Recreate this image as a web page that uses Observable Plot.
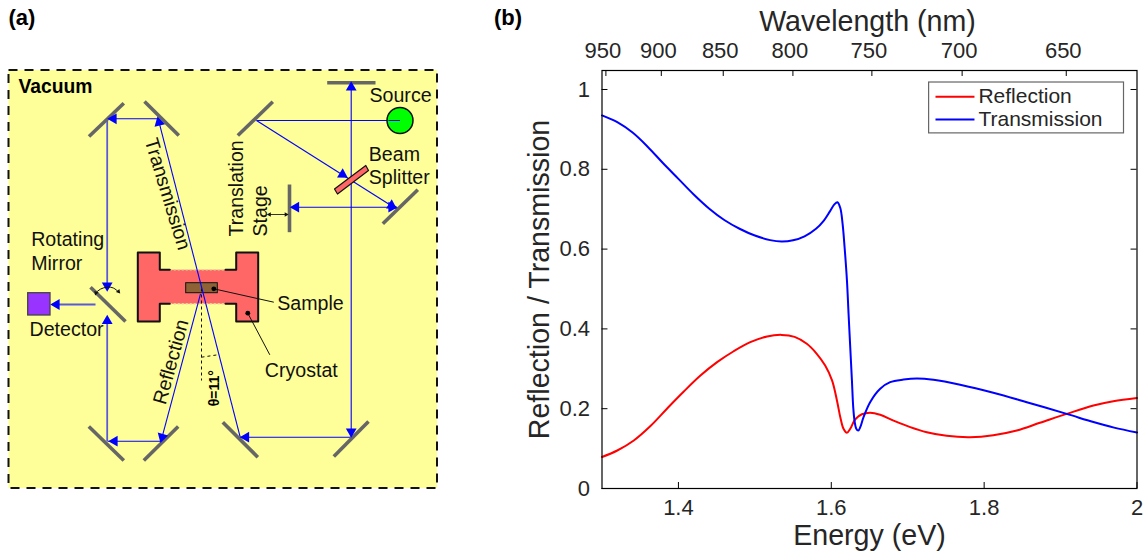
<!DOCTYPE html>
<html>
<head>
<meta charset="utf-8">
<script src="https://cdn.jsdelivr.net/npm/d3@7"></script>
<script src="https://cdn.jsdelivr.net/npm/@observablehq/plot@0.6"></script>
<style>
html,body{margin:0;padding:0;background:#fff;width:1145px;height:554px;overflow:hidden}
#a,#b{position:absolute;top:0}
#a{left:0}
#b{left:485px}
svg{display:block;background:transparent}
</style>
</head>
<body>
<div id="a"></div>
<div id="b"></div>
<script>
// ---------- Panel (b) data ----------
const reflectionE = [1.3,1.32,1.3416,1.3634,1.385,1.407,1.4288,1.4506,1.4723,1.494,1.516,1.535,1.552,1.568,1.581,1.592,1.601,1.6074,1.6118,1.616,1.6205,1.6248,1.6314,1.64,1.651,1.664,1.6815,1.7033,1.725,1.751,1.7817,1.812,1.8427,1.873,1.908,1.943,1.969,2];
const reflectionV = [0.079,0.0952,0.1203,0.1565,0.2,0.243,0.283,0.3166,0.344,0.3667,0.381,0.385,0.38,0.3626,0.3376,0.308,0.271,0.2206,0.1787,0.1496,0.1396,0.1496,0.1735,0.186,0.19,0.1847,0.17,0.1537,0.141,0.132,0.1287,0.1336,0.1454,0.1646,0.187,0.208,0.2188,0.2268];
const transmissionE = [1.3,1.32,1.34,1.36,1.38,1.40,1.42,1.44,1.46,1.48,1.50,1.52,1.535,1.55,1.565,1.58,1.59,1.598,1.604,1.608,1.6118,1.6148,1.6174,1.6205,1.6226,1.6248,1.627,1.6287,1.6304,1.6327,1.6353,1.6379,1.6422,1.651,1.664,1.677,1.6945,1.712,1.7337,1.7686,1.812,1.8558,1.908,1.943,1.97,2];
const transmissionV = [0.935,0.918,0.892,0.856,0.815,0.776,0.737,0.702,0.673,0.651,0.634,0.6225,0.619,0.622,0.632,0.651,0.671,0.694,0.712,0.7175,0.703,0.663,0.605,0.521,0.438,0.354,0.271,0.204,0.17,0.1496,0.1454,0.1537,0.179,0.217,0.25,0.2665,0.273,0.2757,0.2724,0.26,0.24,0.2163,0.187,0.1665,0.1525,0.1404];
const energyTicks = [1.4,1.6,1.8,2];
const valueTicks = [0,0.2,0.4,0.6,0.8,1];
const wavelengthTicks = [950,900,850,800,750,700,650];
const legendNames = ["Reflection","Transmission"];
const legendColors = ["#ff0000","#0000ff"];

// ---------- Panel (a) schematic, in diagram units ----------
const mirrors = [[88.5,136,123.3,102.7],[144,101,178.3,135],[237.3,135,272.3,101.3],[326.7,82.3,375,82.3],[382.3,223.3,417.3,189.3],[289,184,289,231.7],[90,286.7,125,321],[88.3,426,123.3,460],[143.3,460,177.7,426],[222.3,421.7,257.3,456.7],[333.3,456,368,421]];
const thinBeams = [[399,120,256,120],[256,120,393.3,206.7],[291.7,206.7,393.3,206.7],[350.7,84,350.7,437],[350.7,436.7,239.7,436.7],[239.7,436.7,157.7,118.3],[157.7,118.3,107,118.3],[160.5,440.7,107,440.7],[200,293.3,160.5,440.7]];
const thickBeams = [[106.7,118.3,106.7,288],[106.7,440.7,106.7,317],[95,304,52,304]];
const beamHeads = [[350.7,87,0],[350.7,431,180],[245.5,436.7,270],[158.5,122,-14.3],[113,118.3,270],[106.7,285,180],[106.7,320.5,0],[56,304,270],[114,440.7,270],[161.6,436.5,195.2],[342,174,122],[391,205,122],[391,206.7,90],[295.5,206.7,270]];
const smallHeads = [[95.5,292.5,200],[118,291,140],[269,214,270],[285.5,214,90]];
const cryostatOutline = [[137.3,252],[159.3,252],[159.3,269.3],[235.7,269.3],[235.7,252],[257.7,252],[257.7,321],[235.7,321],[235.7,303.3],[159.3,303.3],[159.3,321],[137.3,321]];
const cryostatLeftEdge = [[169.3,269.3],[159.3,269.3],[159.3,252],[137.3,252],[137.3,321],[159.3,321],[159.3,303.3],[169.3,303.3]];
const cryostatRightEdge = [[225,269.3],[235.7,269.3],[235.7,252],[257.7,252],[257.7,321],[235.7,321],[235.7,303.3],[225,303.3]];
const neckDotted = [[169.3,269.3,225,269.3],[169.3,303.3,225,303.3]];
const splitterOutline = [[334,188.5],[365.3,165],[368,170],[337,193.5]];
const leaderLines = [[213.3,288.3,273.3,301.7],[247.3,312.7,269.3,354.3]];
const leaderDots = [[213.3,288.3],[247.3,312.7]];
const angleMarks = [[201,288,201,380],[201,356.7,217.3,354.3]];
const rotationArc = [[95,292.7],[100,288.6],[106.7,286.7],[113,287.6],[118.3,291.7]];
const stageArrow = [[267.7,214],[286.7,214]];
const chamberBox = [[8.5,70,437,488]];
const sampleBox = [[185.7,282.7,217.3,292.7]];
const detectorBox = [[27.7,292.7,50,315]];
const sourceDot = [[399.5,120]];
const regularLabels = [["Source",369,101.7,0],["Beam",368.3,160,0],["Splitter",368.3,183,0],["Translation",242.7,236,-90],["Stage",266.7,236,-90],["Transmission",144,140,73],["Reflection",165,405,-74.5],["Sample",276.7,309.3,0],["Cryostat",264.3,376.7,0],["Rotating",30.7,245,0],["Mirror",30.7,269.3,0],["Detector",29,335,0]];
const boldLabels = [["Vacuum",18,92,0,19.3],["(a)",8,24,0,22],["θ=11°",218,405.7,-90,14]];

const font = "'Liberation Sans', Arial, sans-serif";
const seg = {x1:d=>d[0], y1:d=>d[1], x2:d=>d[2], y2:d=>d[3]};
const xy = {x:d=>d[0], y:d=>d[1]};

const panelA = Plot.plot({
  width:480, height:554, margin:0,
  style:{fontFamily:font, background:"transparent"},
  x:{domain:[0,480], range:[0,480], axis:null},
  y:{domain:[0,554], range:[0,554], axis:null},
  marks:[
    Plot.rect(chamberBox,{...seg, fill:"#ffff99", stroke:"#111", strokeWidth:2, strokeDasharray:"9,7"}),
    Plot.line([...cryostatOutline,cryostatOutline[0]],{...xy, fill:"#ff6666", stroke:"none"}),
    Plot.link(neckDotted,{...seg, stroke:"#d8d8a0", strokeWidth:1.5, strokeDasharray:"2,2"}),
    Plot.line(cryostatLeftEdge,{...xy, stroke:"#111", strokeWidth:2}),
    Plot.line(cryostatRightEdge,{...xy, stroke:"#111", strokeWidth:2}),
    Plot.rect(sampleBox,{...seg, fill:"#8f6235", stroke:"#111", strokeWidth:1}),
    Plot.rect(detectorBox,{...seg, fill:"#9933ff", stroke:"#444", strokeWidth:1.3}),
    Plot.link(angleMarks,{...seg, stroke:"#111", strokeWidth:1, strokeDasharray:"3,3"}),
    Plot.link(thinBeams,{...seg, stroke:"#0000ff", strokeWidth:1.1}),
    Plot.link(thickBeams,{...seg, stroke:"#5a5ad8", strokeWidth:1.8}),
    Plot.line([...splitterOutline,splitterOutline[0]],{...xy, fill:"#ff6666", stroke:"#111", strokeWidth:1.2}),
    Plot.dot(sourceDot,{...xy, r:13, fill:"#00ff00", stroke:"#111", strokeWidth:1.5}),
    Plot.link([[399.5,120,388,120]],{...seg, stroke:"#0000ff", strokeWidth:1}),
    Plot.link(mirrors,{...seg, stroke:"#666666", strokeWidth:3.6}),
    Plot.dot(beamHeads,{...xy, rotate:d=>d[2], symbol:"triangle", r:4, fill:"#0000ff", stroke:"none"}),
    Plot.line(rotationArc,{...xy, curve:"natural", stroke:"#111", strokeWidth:1}),
    Plot.line(stageArrow,{...xy, stroke:"#333", strokeWidth:1}),
    Plot.dot(smallHeads,{...xy, rotate:d=>d[2], symbol:"triangle", r:1.7, fill:"#111", stroke:"none"}),
    Plot.link(leaderLines,{...seg, stroke:"#111", strokeWidth:1}),
    Plot.dot(leaderDots,{...xy, r:2.4, fill:"#000", stroke:"none"}),
    Plot.text(regularLabels,{text:d=>d[0], x:d=>d[1], y:d=>d[2], rotate:d=>d[3], textAnchor:"start", lineAnchor:"bottom", fontSize:19.6, fill:"#111"}),
    Plot.text(boldLabels,{text:d=>d[0], x:d=>d[1], y:d=>d[2], rotate:d=>d[3], fontSize:d=>d[4], textAnchor:"start", lineAnchor:"bottom", fontWeight:"bold", fill:"#000"})
  ]
});
document.getElementById("a").append(panelA);

// ---------- Panel (b) ----------
const hc = 1239.84;
const xMin = 1.3, xMax = 2, yMax = 1.0476;
const tickX = 0.0078, tickY = 0.015;
const reflection = reflectionE.map((e,i)=>({e, v:reflectionV[i]}));
const transmission = transmissionE.map((e,i)=>({e, v:transmissionV[i]}));
const legendRows = legendNames.map((name,i)=>({name, color:legendColors[i], y:[0.982,0.925][i]}));
const dark = "#262626";

const panelB = Plot.plot({
  width:660, height:554,
  marginLeft:116.5, marginRight:8.5, marginTop:70, marginBottom:66,
  style:{fontFamily:font, background:"transparent"},
  x:{domain:[xMin,xMax]},
  y:{domain:[0,yMax]},
  marks:[
    Plot.line(reflection,{x:"e", y:"v", stroke:legendColors[0], strokeWidth:2, curve:"catmull-rom"}),
    Plot.line(transmission,{x:"e", y:"v", stroke:legendColors[1], strokeWidth:2, curve:"catmull-rom"}),
    Plot.frame({stroke:"#000", strokeWidth:1.2}),
    Plot.ruleX(energyTicks,{x:d=>d, y1:0, y2:tickY, stroke:"#000"}),
    Plot.ruleX(wavelengthTicks,{x:d=>hc/d, y1:yMax, y2:yMax-tickY, stroke:"#000"}),
    Plot.ruleY(valueTicks,{y:d=>d, x1:xMin, x2:xMin+tickX, stroke:"#000"}),
    Plot.ruleY(valueTicks,{y:d=>d, x1:xMax, x2:xMax-tickX, stroke:"#000"}),
    Plot.axisX(energyTicks,{anchor:"bottom", tickSize:0, tickPadding:11, label:null, fontSize:22, fill:dark, tickFormat:d=>String(d)}),
    Plot.axisX(wavelengthTicks.map(w=>hc/w),{anchor:"top", tickSize:0, tickPadding:13, label:null, fontSize:22, fill:dark, dx:-3, tickFormat:e=>String(Math.round(hc/e))}),
    Plot.axisY(valueTicks,{anchor:"left", tickSize:0, tickPadding:12, label:null, fontSize:22, fill:dark, tickFormat:d=>String(d)}),
    Plot.text(["Energy (eV)"],{frameAnchor:"bottom", dy:56, lineAnchor:"bottom", textAnchor:"middle", fontSize:28.6, fill:dark}),
    Plot.text(["Wavelength (nm)"],{frameAnchor:"top", dy:-40, dx:-2, lineAnchor:"bottom", textAnchor:"middle", fontSize:28.6, fill:dark}),
    Plot.text(["Reflection / Transmission"],{frameAnchor:"left", dx:-53, rotate:-90, lineAnchor:"bottom", textAnchor:"middle", fontSize:28.6, fill:dark}),
    Plot.text(["(b)"],{frameAnchor:"top-left", dx:-108, dy:-46, lineAnchor:"bottom", textAnchor:"start", fontSize:22, fontWeight:"bold", fill:"#000"}),
    // legend
    Plot.rect([[1.728,0.89,1.983,1.0175]],{x1:d=>d[0], y1:d=>d[1], x2:d=>d[2], y2:d=>d[3], fill:"#fff", stroke:"#666", strokeWidth:1.2}),
    Plot.ruleY(legendRows,{y:"y", x1:1.737, x2:1.788, stroke:"color", strokeWidth:2}),
    Plot.text(legendRows,{x:1.7925, y:"y", text:"name", textAnchor:"start", fontSize:21, fill:dark})
  ]
});
document.getElementById("b").append(panelB);
</script>
</body>
</html>
